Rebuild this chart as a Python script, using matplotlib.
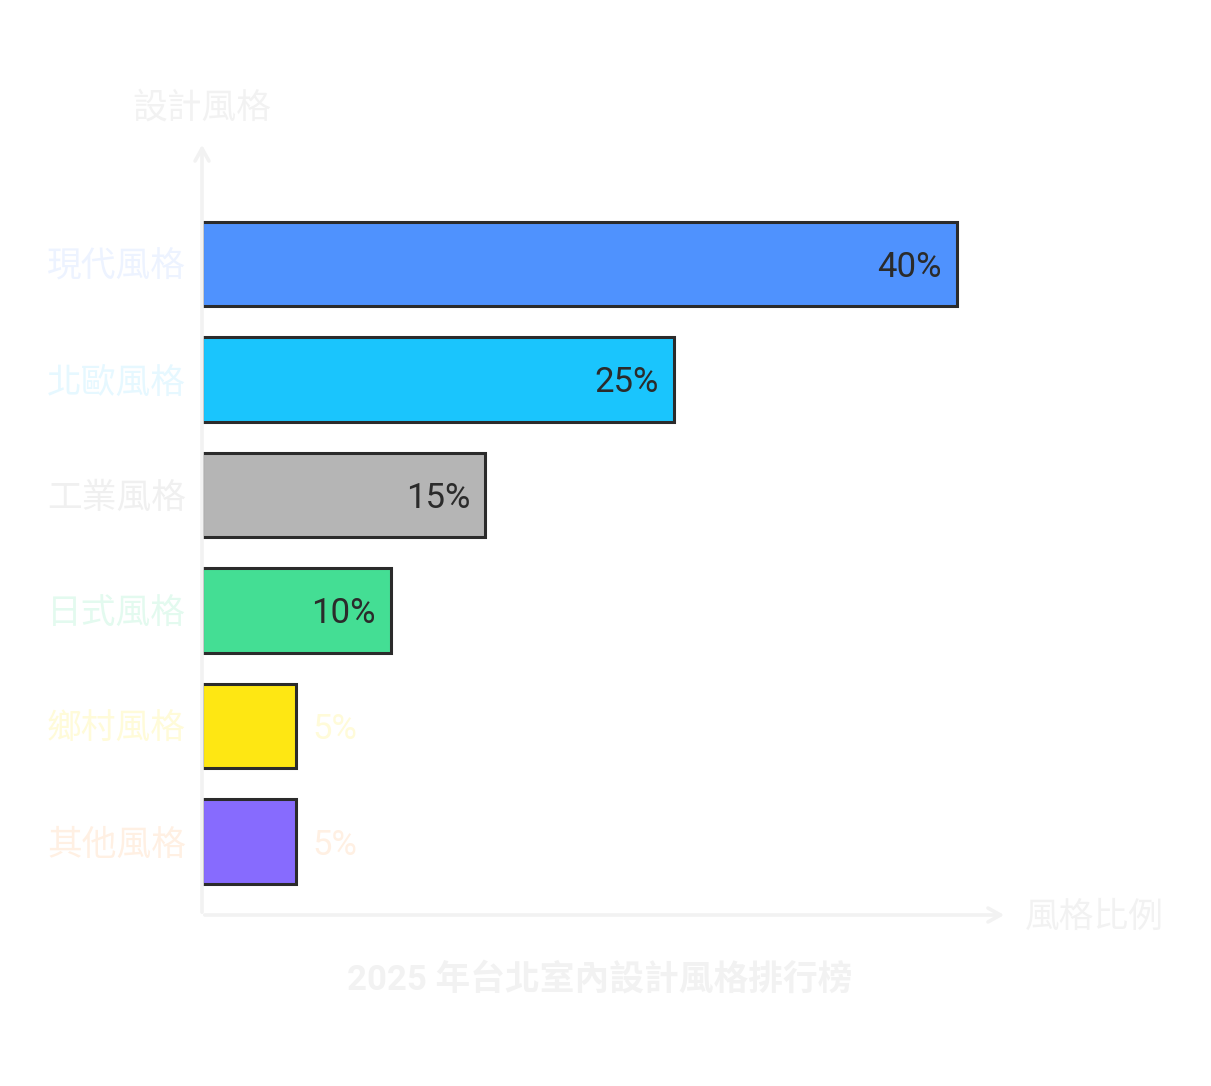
import matplotlib.pyplot as plt

# 數據
styles = ['現代風格', '北歐風格', '工業風格', '日式風格', '鄉村風格', '其他風格']
shares = [40, 25, 15, 10, 5, 5]
bar_colors = ['#4f92fe', '#1ac5fd', '#b5b5b5', '#44de94', '#fee713', '#876bfe']
label_colors = ['#edf3ff', '#e6f8ff', '#f0f0f0', '#e3faef', '#fffbd9', '#fff0e3']

plt.rcParams['font.family'] = ['Roboto', 'Noto Sans CJK TC', 'DejaVu Sans']
fs = 25

fig = plt.figure(figsize=(12.11, 10.86), dpi=100)
ax = fig.add_axes([202 / 1211, 171 / 1086, 805 / 1211, 773 / 1086])

ypos = list(range(len(styles)))
ax.barh(ypos, shares, height=0.73, color=bar_colors, edgecolor='#2b2b2b', linewidth=2.2, zorder=2)
ax.set_xlim(0, 42.65)
ax.set_ylim(5.636, -1.056)

for sp in ax.spines.values():
    sp.set_visible(False)
ax.set_xticks([])
ax.set_yticks([])

axis_c = '#f2f2f2'
# 坐標軸箭頭
ax.annotate('', xy=(1, 0), xytext=(0, 0), xycoords='axes fraction',
            arrowprops=dict(arrowstyle='->,head_length=0.9,head_width=0.5', color=axis_c, lw=2.6), zorder=3)
ax.annotate('', xy=(0, 1), xytext=(0, 0), xycoords='axes fraction',
            arrowprops=dict(arrowstyle='->,head_length=0.9,head_width=0.5', color=axis_c, lw=2.6), zorder=3)

dy = 0.03  # 文字略往下
for y, name, v, lc in zip(ypos, styles, shares, label_colors):
    ax.text(-0.85, y + dy, name, ha='right', va='center', fontsize=fs, color=lc)
    if v >= 10:
        ax.text(v - 0.8, y + dy, f'{v}%', ha='right', va='center', fontsize=fs, color='#2b2b2b', zorder=4)
    else:
        ax.text(v + 0.85, y + dy, f'{v}%', ha='left', va='center', fontsize=fs, color=lc, zorder=4)

fig.text(202 / 1211, 1 - 108 / 1086, '設計風格', ha='center', va='center', fontsize=fs, color=axis_c)
fig.text(1025 / 1211, 1 - 917 / 1086, '風格比例', ha='left', va='center', fontsize=fs, color=axis_c)
fig.text(600 / 1211, 1 - 980 / 1086, '2025 年台北室內設計風格排行榜', ha='center', va='center',
         fontsize=fs, fontweight='bold', color=axis_c)

fig.savefig('out.png', dpi=100, facecolor='white')
